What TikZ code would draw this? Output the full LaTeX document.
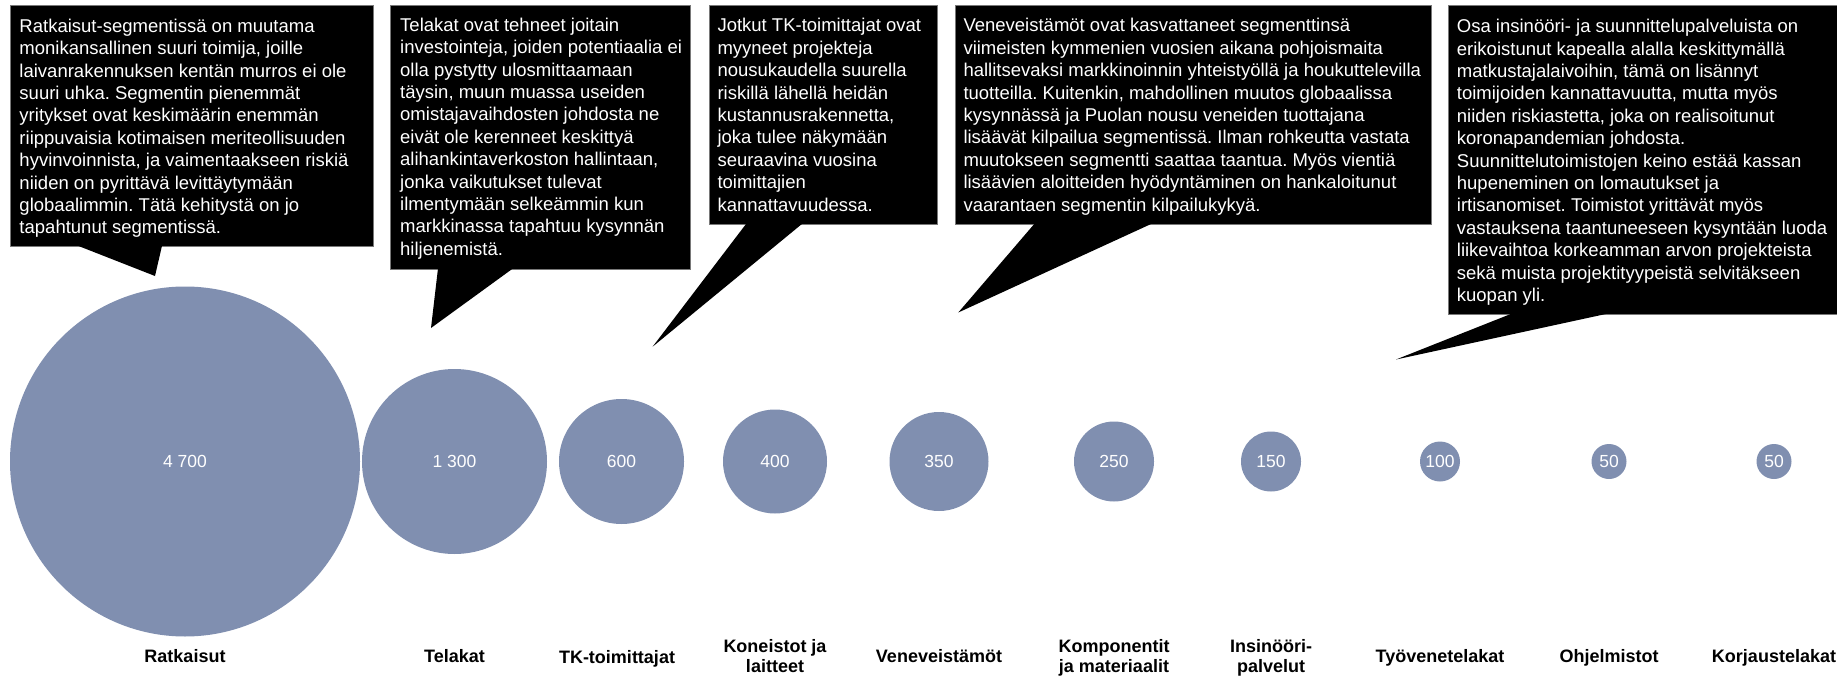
\documentclass[tikz,border=0pt]{standalone}
\usepackage{fontspec}
\setmainfont{Liberation Sans}
\frenchspacing
\definecolor{bubblecol}{RGB}{128,143,176}
\definecolor{boxedge}{RGB}{120,120,120}
\begin{document}
\begin{tikzpicture}[x=1pt,y=-1pt,
  callout/.style={fill=black,draw=boxedge,line width=0.8pt},
  tail/.style={fill=black},
  calltext/.style={anchor=north west,inner sep=0pt,align=left,text=white,
    font=\fontsize{18.5}{22.4}\selectfont},
  bubble/.style={circle,fill=bubblecol,inner sep=0pt,text=white,
    font=\fontsize{17.5}{20}\selectfont},
  seglabel/.style={anchor=north,inner sep=0pt,align=center,
    font=\fontsize{18}{20}\selectfont\bfseries}]
\useasboundingbox (0,0) rectangle (1837,677);

% ---- segment bubbles (area ~ number of firms) ----
\node[bubble,minimum size=350pt] (c1)  at (185,461.5)  {4 700};
\node[bubble,minimum size=185pt] (c2)  at (454.5,461.5) {1 300};
\node[bubble,minimum size=125pt] (c3)  at (621.5,461.5) {600};
\node[bubble,minimum size=104pt] (c4)  at (775,461.5)  {400};
\node[bubble,minimum size=99pt]  (c5)  at (939,461.5)  {350};
\node[bubble,minimum size=80pt]  (c6)  at (1114,461.5) {250};
\node[bubble,minimum size=60pt]  (c7)  at (1271,461.5) {150};
\node[bubble,minimum size=40pt]  (c8)  at (1440,461.5) {100};
\node[bubble,minimum size=35pt]  (c9)  at (1609,461.5) {50};
\node[bubble,minimum size=35pt]  (c10) at (1774,461.5) {50};

% ---- segment names ----
\node[seglabel] (l1)  at (185,647)    {\rule{0pt}{15pt}Ratkaisut};
\node[seglabel] (l2)  at (454.5,647)  {\rule{0pt}{15pt}Telakat};
\node[seglabel] (l3)  at (617,648)    {\rule{0pt}{15pt}TK-toimittajat};
\node[seglabel] (l4)  at (775,637.5)  {\rule{0pt}{15pt}Koneistot ja\\laitteet};
\node[seglabel] (l5)  at (939,647)    {\rule{0pt}{15pt}Veneveistämöt};
\node[seglabel] (l6)  at (1114,637.5) {\rule{0pt}{15pt}Komponentit\\ja materiaalit};
\node[seglabel] (l7)  at (1271,637.5) {\rule{0pt}{15pt}Insinööri-\\palvelut};
\node[seglabel] (l8)  at (1440,647)   {\rule{0pt}{15pt}Työvenetelakat};
\node[seglabel] (l9)  at (1609,647)   {\rule{0pt}{15pt}Ohjelmistot};
\node[seglabel] (l10) at (1774,647)   {\rule{0pt}{15pt}Korjaustelakat};

% ---- callout boxes ----
\draw[callout] (10.7,5.7) rectangle (373,246.7);
\fill[tail] (78,245.8) -- (162,245.8) -- (155,276) -- cycle;

\draw[callout] (390.7,5.7) rectangle (690.7,269.3);
\fill[tail] (438,268.4) -- (513,268.4) -- (431,328) -- cycle;

\draw[callout] (709.3,5) rectangle (937.3,224);
\fill[tail] (746.7,223.1) -- (803,223.1) -- (652.6,346.7) -- cycle;

\draw[callout] (955,5) rectangle (1431.7,224);
\fill[tail] (1035,223.1) -- (1153,223.1) -- (958.3,312.5) -- cycle;

\draw[callout] (1448.3,5) rectangle (1842,314);
\fill[tail] (1513,313.1) -- (1610,313.1) -- (1396,359.5) -- cycle;

% ---- callout texts ----
\node[calltext] (t1) at (19.3,15) {\rule{0pt}{17pt}Ratkaisut-segmentissä on muutama\\
monikansallinen suuri toimija, joille\\
laivanrakennuksen kentän murros ei ole\\
suuri uhka. Segmentin pienemmät\\
yritykset ovat keskimäärin enemmän\\
riippuvaisia kotimaisen meriteollisuuden\\
hyvinvoinnista, ja vaimentaakseen riskiä\\
niiden on pyrittävä levittäytymään\\
globaalimmin. Tätä kehitystä on jo\\
tapahtunut segmentissä.};

\node[calltext] (t2) at (400,14) {\rule{0pt}{17pt}Telakat ovat tehneet joitain\\
investointeja, joiden potentiaalia ei\\
olla pystytty ulosmittaamaan\\
täysin, muun muassa useiden\\
omistajavaihdosten johdosta ne\\
eivät ole kerenneet keskittyä\\
alihankintaverkoston hallintaan,\\
jonka vaikutukset tulevat\\
ilmentymään selkeämmin kun\\
markkinassa tapahtuu kysynnän\\
hiljenemistä.};

\node[calltext] (t3) at (717.3,14.7) {\rule{0pt}{17pt}Jotkut TK-toimittajat ovat\\
myyneet projekteja\\
nousukaudella suurella\\
riskillä lähellä heidän\\
kustannusrakennetta,\\
joka tulee näkymään\\
seuraavina vuosina\\
toimittajien\\
kannattavuudessa.};

\node[calltext] (t4) at (963.3,14.7) {\rule{0pt}{17pt}Veneveistämöt ovat kasvattaneet segmenttinsä\\
viimeisten kymmenien vuosien aikana pohjoismaita\\
hallitsevaksi markkinoinnin yhteistyöllä ja houkuttelevilla\\
tuotteilla. Kuitenkin, mahdollinen muutos globaalissa\\
kysynnässä ja Puolan nousu veneiden tuottajana\\
lisäävät kilpailua segmentissä. Ilman rohkeutta vastata\\
muutokseen segmentti saattaa taantua. Myös vientiä\\
lisäävien aloitteiden hyödyntäminen on hankaloitunut\\
vaarantaen segmentin kilpailukykyä.};

\node[calltext] (t5) at (1456.7,15.5) {\rule{0pt}{17pt}Osa insinööri- ja suunnittelupalveluista on\\
erikoistunut kapealla alalla keskittymällä\\
matkustajalaivoihin, tämä on lisännyt\\
toimijoiden kannattavuutta, mutta myös\\
niiden riskiastetta, joka on realisoitunut\\
koronapandemian johdosta.\\
Suunnittelutoimistojen keino estää kassan\\
hupeneminen on lomautukset ja\\
irtisanomiset. Toimistot yrittävät myös\\
vastauksena taantuneeseen kysyntään luoda\\
liikevaihtoa korkeamman arvon projekteista\\
sekä muista projektityypeistä selvitäkseen\\
kuopan yli.};
\end{tikzpicture}
\end{document}
